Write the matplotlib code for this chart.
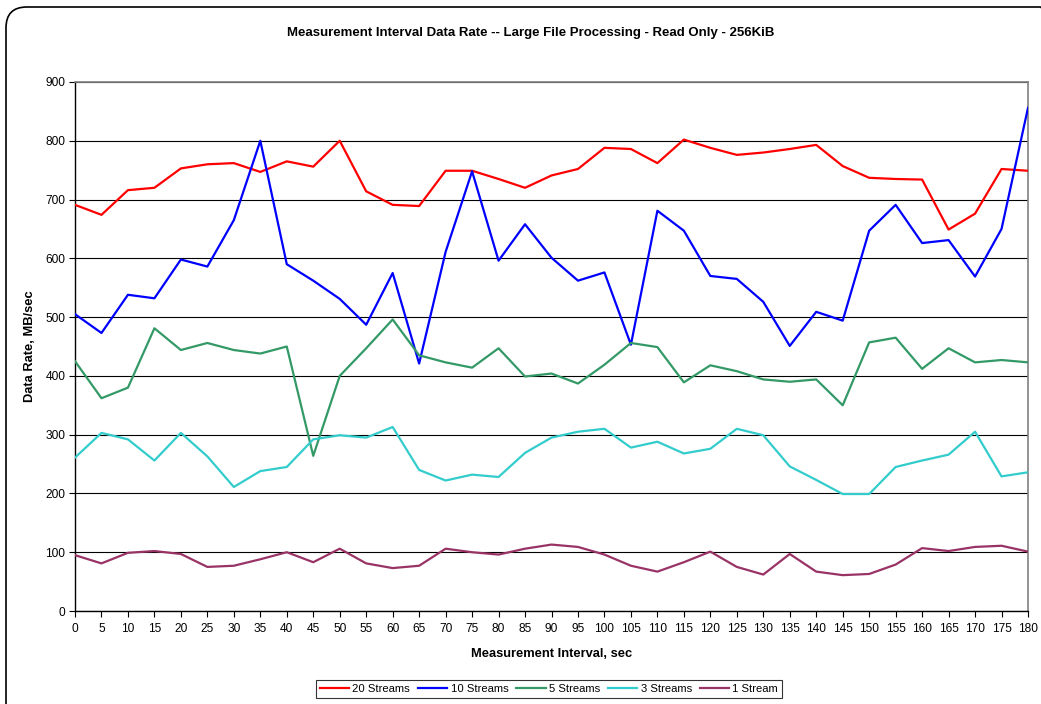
import matplotlib
matplotlib.use("Agg")
import matplotlib.pyplot as plt
from matplotlib.patches import FancyBboxPatch

plt.rcParams['font.family'] = ['Liberation Sans', 'DejaVu Sans']

intervals = list(range(0, 185, 5))

streams_20 = [691, 674, 716, 720, 753, 760, 762, 747, 765, 756, 800, 714, 691,
              689, 749, 749, 735, 720, 741, 752, 788, 786, 762, 802, 788,
              776, 780, 786, 793, 757, 737, 735, 734, 649, 676, 752, 749]
streams_10 = [505, 473, 538, 532, 598, 586, 665, 800, 590, 562, 531, 487, 575,
              421, 611, 748, 596, 658, 601, 562, 576, 453, 681, 647, 570,
              565, 526, 451, 509, 494, 647, 691, 626, 631, 569, 650, 856]
streams_5 = [425, 362, 380, 481, 444, 456, 444, 438, 450, 264, 400, 447, 496,
             435, 423, 414, 447, 399, 404, 387, 419, 456, 449, 389, 418,
             408, 394, 390, 394, 350, 457, 465, 412, 447, 423, 427, 423]
streams_3 = [261, 303, 292, 256, 303, 263, 211, 238, 245, 292, 299, 295, 313,
             240, 222, 232, 228, 269, 295, 305, 310, 278, 288, 268, 276,
             310, 299, 246, 223, 199, 199, 245, 256, 266, 305, 229, 236]
streams_1 = [95, 81, 99, 102, 97, 75, 77, 88, 100, 83, 106, 81, 73,
             77, 106, 100, 96, 106, 113, 109, 96, 77, 67, 83, 101,
             75, 62, 97, 67, 61, 63, 79, 107, 102, 109, 111, 101]

series = [
    ("20 Streams", streams_20, "#FF0000"),
    ("10 Streams", streams_10, "#0000FF"),
    ("5 Streams", streams_5, "#339966"),
    ("3 Streams", streams_3, "#33CCCC"),
    ("1 Stream", streams_1, "#993366"),
]

W, H = 1041, 704
fig = plt.figure(figsize=(W / 100, H / 100), dpi=100)

# rounded outer frame
frame = FancyBboxPatch((6 / W, -20 / H), (W + 20 - 6) / W, (H + 20 - 7) / H,
                       boxstyle="round,pad=0,rounding_size=0.02",
                       transform=fig.transFigure, fill=False,
                       edgecolor="black", linewidth=1.2, mutation_aspect=W / H)
fig.patches.append(frame)

left, right, top, bottom = 75, 1028, 82, 611
ax = fig.add_axes([left / W, 1 - bottom / H, (right - left) / W, (bottom - top) / H])

for name, vals, col in series:
    ax.plot(intervals, vals, color=col, linewidth=1.6, label=name, zorder=3)

ax.set_xlim(0, 180)
ax.set_ylim(0, 900)
ax.set_xticks(intervals)
ax.set_yticks(range(0, 1000, 100))
ax.tick_params(axis='both', labelsize=8.6, direction='out', length=4, width=0.8, color='black')
ax.tick_params(axis='x', pad=5)
ax.tick_params(axis='y', pad=3)
ax.yaxis.grid(True, color='black', linewidth=0.8)
ax.set_axisbelow(True)
for s in ['top', 'right']:
    ax.spines[s].set_color('#808080')
    ax.spines[s].set_linewidth(1.2)
for s in ['left', 'bottom']:
    ax.spines[s].set_color('black')
    ax.spines[s].set_linewidth(1.0)

ax.set_xlabel("Measurement Interval, sec", fontsize=9.3, fontweight='bold', labelpad=9)
ax.set_ylabel("Data Rate, MB/sec", fontsize=9.3, fontweight='bold', labelpad=7)

fig.text(531 / W, 1 - 33 / H, "Measurement Interval Data Rate -- Large File Processing - Read Only - 256KiB",
         ha='center', va='center', fontsize=9.5, fontweight='bold')

leg = fig.legend(loc='center', bbox_to_anchor=(549 / W, 1 - 689 / H), ncol=5,
                 fontsize=8.1, frameon=True, fancybox=False, edgecolor='black',
                 handlelength=2.6, handletextpad=0.3, columnspacing=0.7,
                 borderpad=0.35)
leg.get_frame().set_linewidth(0.8)

fig.savefig("out.png", dpi=100)
